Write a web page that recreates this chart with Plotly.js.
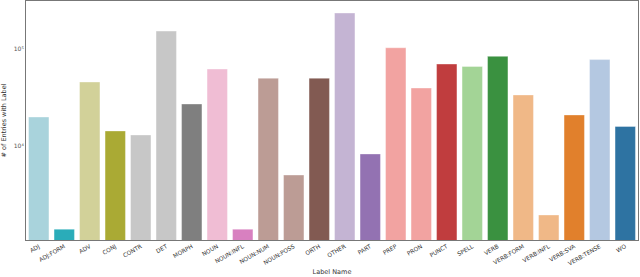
<!DOCTYPE html>
<html>
<head>
<meta charset="utf-8">
<script src="https://cdn.plot.ly/plotly-3.0.1.min.js"></script>
<style>html,body{margin:0;padding:0;background:#fff;}#chart{width:640px;height:277px;}</style>
</head>
<body>
<div id="chart"></div>
<script>
const labels = ["ADJ","ADJ:FORM","ADV","CONJ","CONTR","DET","MORPH","NOUN","NOUN:INFL","NOUN:NUM","NOUN:POSS","ORTH","OTHER","PART","PREP","PRON","PUNCT","SPELL","VERB","VERB:FORM","VERB:INFL","VERB:SVA","VERB:TENSE","WO"];
const counts = [19900,1390,45700,14300,13000,153000,27100,62200,1390,50000,5020,50000,235000,8280,103000,39600,70000,66000,84000,33600,1945,20900,77800,15900];
const colors = ["#a9d3dc","#2aacb9","#d2d199","#aaaa34","#c7c7c7","#c7c7c7","#7f7f7f","#f0bdd4","#d880c0","#bc9c95","#bc9c95","#825a52","#c4b4d3","#9372b2","#f2a3a1","#f2a3a1","#c03d3e","#a3d496","#3a9140","#f0b887","#f0b887","#e1802c","#b4c8e1","#2e73a2"];
const yTicks = [1e4, 1e5];
const yTickText = ["10\u2074","10\u2075"];

Plotly.newPlot("chart", [{
  type: "bar",
  x: labels,
  y: counts,
  marker: {color: colors, line: {color: "rgba(255,255,255,0.6)", width: 0.6}},
  width: 0.8
}], {
  width: 640, height: 277,
  margin: {l: 26, r: 2, t: 1, b: 37},
  paper_bgcolor: "#fff", plot_bgcolor: "#fff",
  showlegend: false,
  bargap: 0.2,
  font: {family: "DejaVu Sans", color: "#333"},
  xaxis: {
    tickangle: -30, tickfont: {size: 5.8, color: "#333"},
    showline: true, linecolor: "#777", linewidth: 1, mirror: true,
    ticks: "", showgrid: false,
    title: {text: "Label Name", font: {size: 6.5, color: "#333"}, standoff: 3},
    automargin: false
  },
  yaxis: {
    type: "log", range: [3.031, 5.495],
    tickvals: yTicks, ticktext: yTickText, tickfont: {size: 6, color: "#555"},
    showline: true, linecolor: "#777", linewidth: 1, mirror: true,
    ticks: "", showgrid: false, zeroline: false,
    title: {text: "# of Entries with Label", font: {size: 6.5, color: "#333"}, standoff: 6},
    automargin: false
  }
}, {displayModeBar: false, staticPlot: true});
</script>
</body>
</html>
